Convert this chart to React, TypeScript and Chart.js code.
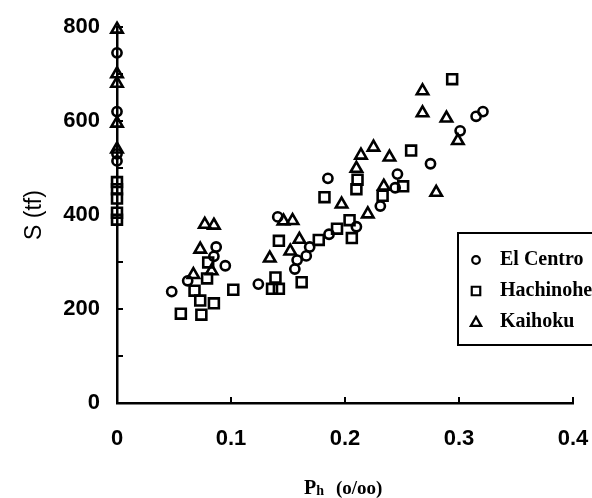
import React, { useEffect, useRef } from "react";
import { Chart, registerables } from "chart.js";

Chart.register(...registerables);

// ---- data ----
const elCentroX = [0, 0, 0, 0, 0.048, 0.062, 0.085, 0.087, 0.095, 0.124, 0.141, 0.156, 0.158, 0.166, 0.169, 0.186, 0.185, 0.21, 0.231, 0.244, 0.246, 0.275, 0.301, 0.315, 0.321];
const elCentroY = [745, 620, 530, 515, 237, 260, 312, 332, 292, 253, 396, 285, 304, 313, 332, 359, 478, 375, 419, 458, 487, 509, 579, 610, 620];

const hachinoheX = [0, 0, 0, 0, 0, 0.056, 0.074, 0.073, 0.085, 0.068, 0.079, 0.08, 0.102, 0.136, 0.142, 0.139, 0.142, 0.162, 0.177, 0.182, 0.193, 0.204, 0.206, 0.21, 0.211, 0.233, 0.251, 0.258, 0.294];
const hachinoheY = [470, 455, 435, 405, 390, 190, 188, 218, 212, 239, 265, 299, 241, 243, 243, 267, 345, 257, 347, 438, 371, 389, 351, 455, 475, 441, 461, 537, 689];

const kaihokuX = [0, 0, 0, 0, 0, 0.077, 0.085, 0.073, 0.083, 0.067, 0.134, 0.146, 0.154, 0.152, 0.16, 0.197, 0.21, 0.214, 0.22, 0.225, 0.234, 0.239, 0.268, 0.268, 0.28, 0.289, 0.299];
const kaihokuY = [795, 700, 680, 595, 540, 380, 378, 327, 281, 273, 308, 387, 388, 323, 348, 423, 499, 527, 402, 544, 461, 523, 664, 617, 448, 606, 558];

const seriesNames = ["El Centro", "Hachinohe", "Kaihoku"];
const xTickValues = [0, 0.1, 0.2, 0.3, 0.4];
const yMinorTickValues = [100, 200, 300, 400, 500, 600, 700, 800];
const yLabelStep = 200;
const xTitleMain = "P";
const xTitleSub = "h";
const xTitleRest = "(o/oo)";
const yTitle = "S (tf)";

const toPoints = (xs: number[], ys: number[]) => xs.map((x, i) => ({ x, y: ys[i] }));

const markerStyles = ["circle", "rect", "triangle"] as const;
const markerRadius = [4.6, 7, 6.6];

const inwardTicks = {
  id: "inwardTicks",
  afterDatasetsDraw(chart: any) {
    const { ctx, chartArea, scales } = chart;
    ctx.save();
    ctx.strokeStyle = "#000";
    ctx.lineWidth = 2;
    ctx.beginPath();
    for (const v of yMinorTickValues) {
      const py = scales.y.getPixelForValue(v);
      ctx.moveTo(chartArea.left, py);
      ctx.lineTo(chartArea.left + 6, py);
    }
    for (const v of xTickValues) {
      if (v === 0) continue;
      const px = scales.x.getPixelForValue(v);
      ctx.moveTo(px, chartArea.bottom);
      ctx.lineTo(px, chartArea.bottom - 6);
    }
    ctx.stroke();
    ctx.restore();
  },
};

function drawMarker(ctx: CanvasRenderingContext2D, style: string, r: number, x: number, y: number) {
  ctx.beginPath();
  if (style === "circle") {
    ctx.arc(x, y, r, 0, Math.PI * 2);
  } else if (style === "rect") {
    const s = r * Math.SQRT1_2;
    ctx.rect(x - s, y - s, 2 * s, 2 * s);
  } else {
    const a = -Math.PI / 2;
    for (let k = 0; k < 3; k++) {
      const ang = a + (k * 2 * Math.PI) / 3;
      const px = x + Math.cos(ang) * r;
      const py = y + Math.sin(ang) * r + r * 0.15;
      if (k === 0) ctx.moveTo(px, py);
      else ctx.lineTo(px, py);
    }
    ctx.closePath();
  }
  ctx.strokeStyle = "#000";
  ctx.stroke();
}

const boxLegend = {
  id: "boxLegend",
  afterDraw(chart: any) {
    const { ctx } = chart;
    const left = 458;
    const top = 233;
    ctx.save();
    ctx.strokeStyle = "#000";
    ctx.lineWidth = 2;
    ctx.strokeRect(left, top, 200, 112);
    ctx.fillStyle = "#000";
    ctx.textBaseline = "middle";
    ctx.textAlign = "left";
    ctx.font = "bold 20px 'Liberation Serif'";
    const legendR = [3.8, 6, 6];
    seriesNames.forEach((name, i) => {
      const y = top + 27 + i * 31;
      ctx.lineWidth = 2.2;
      drawMarker(ctx, markerStyles[i], legendR[i], left + 18, y);
      ctx.fillText(name, left + 42, y);
    });
    ctx.restore();
  },
};

const xTitlePlugin = {
  id: "xTitlePlugin",
  afterDraw(chart: any) {
    const { ctx } = chart;
    ctx.save();
    ctx.fillStyle = "#000";
    ctx.textBaseline = "alphabetic";
    ctx.textAlign = "left";
    let x = 304;
    const base = 494;
    ctx.font = "bold 20px 'Liberation Serif'";
    ctx.fillText(xTitleMain, x, base);
    x += ctx.measureText(xTitleMain).width;
    ctx.font = "bold 14px 'Liberation Serif'";
    ctx.fillText(xTitleSub, x, base + 1);
    x += ctx.measureText(xTitleSub).width + 12;
    ctx.font = "bold 19px 'Liberation Serif'";
    ctx.fillText(xTitleRest, x, base);
    ctx.restore();
  },
};

export default function App() {
  const canvasRef = useRef<HTMLCanvasElement | null>(null);

  useEffect(() => {
    if (!canvasRef.current) return;
    const datasets = [
      toPoints(elCentroX, elCentroY),
      toPoints(hachinoheX, hachinoheY),
      toPoints(kaihokuX, kaihokuY),
    ].map((data, i) => ({
      label: seriesNames[i],
      data,
      pointStyle: markerStyles[i],
      pointRadius: markerRadius[i],
      pointHoverRadius: markerRadius[i],
      pointBorderWidth: 2.6,
      pointBorderColor: "#000",
      pointBackgroundColor: "rgba(0,0,0,0)",
      showLine: false,
      clip: false as any,
    }));

    const chart = new Chart(canvasRef.current, {
      type: "scatter",
      data: { datasets },
      options: {
        animation: false,
        responsive: false,
        devicePixelRatio: 1,
        layout: { padding: { left: 0, top: 27, right: 19, bottom: 0 } },
        plugins: {
          legend: { display: false },
          tooltip: { enabled: false },
        },
        scales: {
          x: {
            type: "linear",
            min: 0,
            max: 0.4,
            afterFit: (s: any) => {
              s.height = 95;
            },
            afterBuildTicks: (s: any) => {
              s.ticks = xTickValues.map((v) => ({ value: v }));
            },
            ticks: {
              color: "#000",
              padding: 0,
              maxRotation: 0,
              font: { family: "'Liberation Sans'", size: 22, weight: "bold" },
              callback: (v: any) => (Number(v) === 0 ? "0" : Number(v).toFixed(1)),
            },
            grid: { display: true, drawOnChartArea: false, drawTicks: true, tickLength: 23, tickColor: "rgba(0,0,0,0)" },
            border: { display: true, color: "#000", width: 2.5 },
          },
          y: {
            type: "linear",
            min: 0,
            max: 800,
            afterFit: (s: any) => {
              s.width = 117;
            },
            ticks: {
              stepSize: yLabelStep,
              color: "#000",
              padding: 0,
              font: { family: "'Liberation Sans'", size: 22, weight: "bold" },
              callback: (v: any) => String(v),
            },
            grid: { display: true, drawOnChartArea: false, drawTicks: true, tickLength: 17, tickColor: "rgba(0,0,0,0)" },
            border: { display: true, color: "#000", width: 2.5 },
            title: {
              display: true,
              text: yTitle,
              color: "#000",
              padding: { top: 21, bottom: 0 },
              font: { family: "'Liberation Sans'", size: 23, weight: "normal" },
            },
          },
        },
      },
      plugins: [inwardTicks, boxLegend, xTitlePlugin],
    });
    return () => chart.destroy();
  }, []);

  return (
    <div style={{ position: "fixed", left: 0, top: 0, width: 592, height: 498, background: "#fff" }}>
      <canvas ref={canvasRef} width={592} height={498} />
    </div>
  );
}
